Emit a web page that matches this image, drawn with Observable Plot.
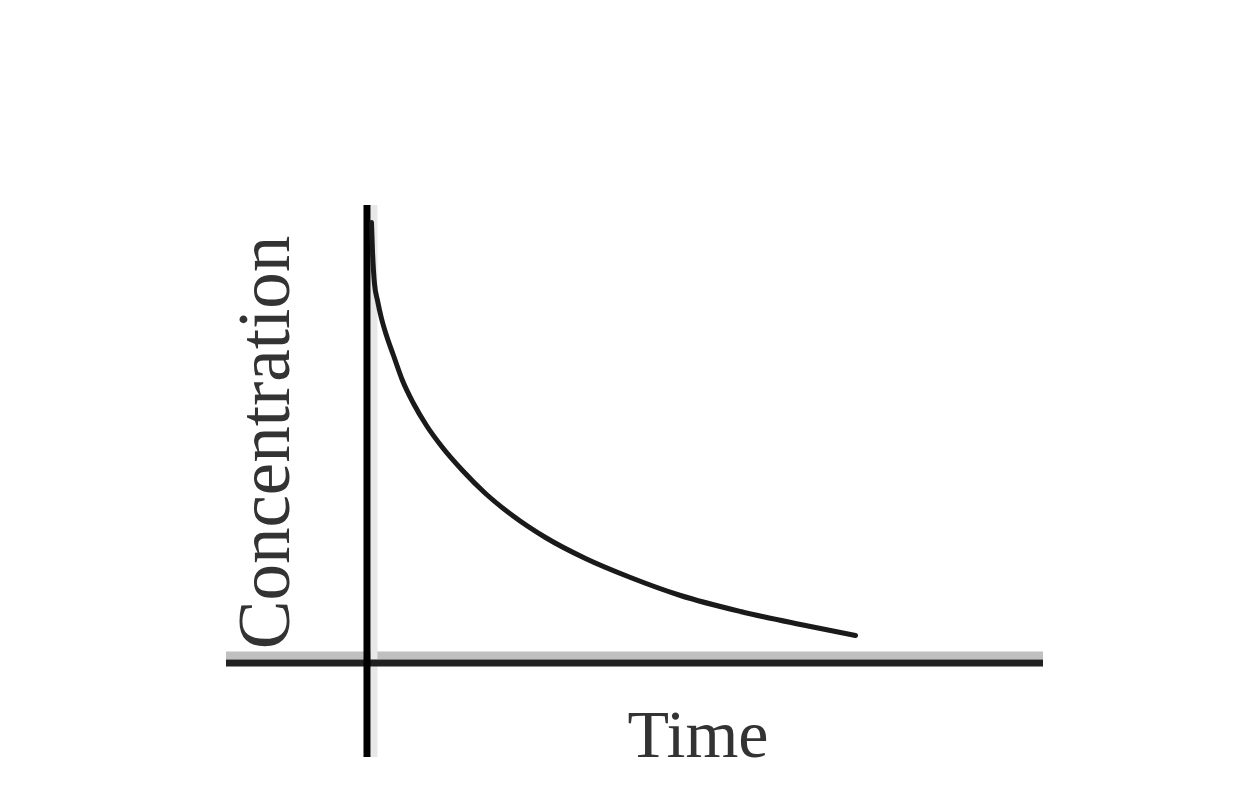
<!DOCTYPE html>
<html>
<head>
<meta charset="utf-8">
<script src="https://cdn.jsdelivr.net/npm/d3@7"></script>
<script src="https://cdn.jsdelivr.net/npm/@observablehq/plot@0.6"></script>
<style>
  html, body { margin: 0; padding: 0; background: #fff; }
  svg { display: block; }
</style>
</head>
<body>
<div id="chart"></div>
<script>
const time = [0.082, 0.102, 0.143, 0.205, 0.287, 0.389, 0.533, 0.717, 0.943, 1.209, 1.537, 1.947, 2.418, 2.971, 3.648, 4.467, 5.389, 6.414, 7.643, 8.873, 10.0];
const concentration = [10.95, 10.25, 9.425, 9.0, 8.55, 8.125, 7.625, 7.0, 6.425, 5.875, 5.325, 4.75, 4.175, 3.625, 3.075, 2.55, 2.075, 1.625, 1.225, 0.9, 0.625];
const xLabel = "Time";
const yLabel = "Concentration";

const data = time.map((t, i) => ({t, c: concentration[i]}));

const chart = Plot.plot({
  width: 1241,
  height: 805,
  marginLeft: 226,
  marginRight: 198,
  marginTop: 205,
  marginBottom: 48,
  x: {domain: [-2.889, 13.852], axis: null},
  y: {domain: [-2.425, 11.375], axis: null},
  marks: [
    Plot.ruleY([0], {stroke: "#c0c0c0", strokeWidth: 8, dy: -5}),
    Plot.ruleX([0], {stroke: "#e8e8e8", strokeWidth: 7, dx: 6.5}),
    Plot.ruleY([0], {stroke: "#222", strokeWidth: 7, dy: 2.5}),
    Plot.ruleX([0], {stroke: "#000", strokeWidth: 7, dx: -0.5}),
    Plot.line(data, {x: "t", y: "c", curve: "monotone-x", stroke: "#1a1a1a", strokeWidth: 5}),
    Plot.text([xLabel], {frameAnchor: "bottom", text: d => d, textAnchor: "middle", lineAnchor: "middle", dx: 63, dy: -22, fontSize: 68, fontFamily: "Liberation Serif", fill: "#333"}),
    Plot.text([yLabel], {frameAnchor: "left", text: d => d, rotate: -90, textAnchor: "middle", lineAnchor: "middle", dx: 39, dy: -39, fontSize: 73, fontFamily: "Liberation Serif", fill: "#333"})
  ]
});
document.getElementById("chart").appendChild(chart);
</script>
</body>
</html>
